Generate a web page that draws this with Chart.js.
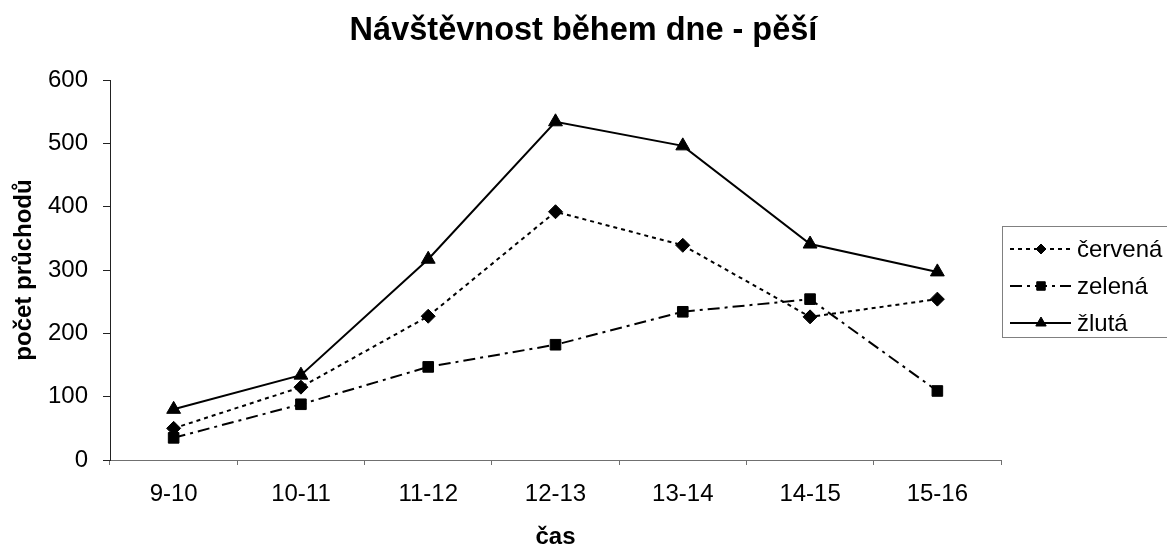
<!DOCTYPE html>
<html>
<head>
<meta charset="utf-8">
<script src="https://cdn.jsdelivr.net/npm/chart.js@4.4.1/dist/chart.umd.min.js"></script>
<style>
  html, body { margin: 0; padding: 0; background: #fff; }
  #wrap { width: 1167px; height: 548px; }
</style>
</head>
<body>
<div id="wrap"><canvas id="chart" width="1167" height="548"></canvas></div>
<script>
// ---- data ----
const categories = ['9-10', '10-11', '11-12', '12-13', '13-14', '14-15', '15-16'];
const cervena = [50, 115, 227, 392, 339, 226, 254];
const zelena  = [35, 88, 147, 182, 234, 254, 109];
const zluta   = [80, 134, 317, 534, 496, 341, 297];
const seriesNames = ['červená', 'zelená', 'žlutá'];
const chartTitle = 'Návštěvnost během dne - pěší';

const FONT = '"Liberation Sans", Arial, sans-serif';

// title centred on the whole canvas (the built-in one centres left of the legend)
const pageTitle = {
  id: 'pageTitle',
  afterDraw(chart) {
    const ctx = chart.ctx;
    ctx.save();
    ctx.fillStyle = '#000';
    ctx.font = 'bold 32.5px ' + FONT;
    ctx.textAlign = 'center';
    ctx.textBaseline = 'alphabetic';
    ctx.fillText(chartTitle, chart.width / 2, 40);
    ctx.restore();
  }
};

// legend drawn by hand so the samples keep the dash pattern + marker
const boxLegend = {
  id: 'boxLegend',
  afterDraw(chart) {
    const ctx = chart.ctx;
    const sizes = [5, 6, 6];
    ctx.save();
    ctx.strokeStyle = '#808080';
    ctx.lineWidth = 1;
    ctx.strokeRect(1002.5, 226.5, 170, 111);
    chart.data.datasets.forEach((ds, i) => {
      const y = 249 + i * 37;
      ctx.strokeStyle = '#000';
      ctx.lineWidth = ds.borderWidth;
      ctx.setLineDash(ds.borderDash || []);
      ctx.beginPath();
      ctx.moveTo(1010, y);
      ctx.lineTo(1071, y);
      ctx.stroke();
      ctx.setLineDash([]);
      ctx.fillStyle = '#000';
      ctx.lineWidth = 1;
      Chart.helpers.drawPoint(ctx, { pointStyle: ds.pointStyle, radius: sizes[i], rotation: 0, borderWidth: 1 }, 1041, y);
      ctx.fillStyle = '#000';
      ctx.font = '24px ' + FONT;
      ctx.textBaseline = 'middle';
      ctx.textAlign = 'left';
      ctx.fillText(ds.label, 1077, y + 1);
    });
    ctx.restore();
  }
};

function lineSet(label, data, dash, style, r) {
  return {
    label: label,
    data: data,
    borderColor: '#000',
    backgroundColor: '#000',
    borderWidth: 2,
    borderDash: dash,
    tension: 0,
    fill: false,
    pointStyle: style,
    pointRadius: r,
    pointBackgroundColor: '#000',
    pointBorderColor: '#000',
    pointBorderWidth: 1
  };
}

new Chart(document.getElementById('chart'), {
  type: 'line',
  data: {
    labels: categories,
    datasets: [
      lineSet(seriesNames[0], cervena, [4, 4], 'rectRot', 7),
      lineSet(seriesNames[1], zelena, [12, 5, 3, 5], 'rect', 7.5),
      lineSet(seriesNames[2], zluta, [], 'triangle', 8)
    ]
  },
  options: {
    responsive: false,
    animation: false,
    devicePixelRatio: 1,
    layout: { padding: { left: 0, right: 166, top: 80, bottom: 0 } },
    plugins: {
      legend: { display: false },
      tooltip: { enabled: false },
      title: { display: false }
    },
    scales: {
      x: {
        offset: true,
        afterFit: (s) => { s.height = 88; },
        grid: { offset: true, drawOnChartArea: false, drawTicks: true, tickLength: 5, color: '#707070' },
        border: { display: true, color: '#707070', width: 1 },
        ticks: { color: '#000', padding: 15, font: { family: FONT, size: 24 }, maxRotation: 0 },
        title: {
          display: true,
          text: 'čas',
          color: '#000',
          font: { family: FONT, size: 24, weight: 'bold', lineHeight: 0.9 },
          padding: 0
        }
      },
      y: {
        min: 0,
        max: 600,
        afterFit: (s) => { s.width = 110; },
        grid: { drawOnChartArea: false, drawTicks: true, tickLength: 7, color: '#222' },
        border: { display: true, color: '#222', width: 1 },
        ticks: { stepSize: 100, color: '#000', padding: 15, font: { family: FONT, size: 24 } },
        title: {
          display: true,
          text: 'počet průchodů',
          color: '#000',
          font: { family: FONT, size: 24, weight: 'bold' },
          padding: { top: 10, bottom: 0 }
        }
      }
    }
  },
  plugins: [pageTitle, boxLegend]
});
</script>
</body>
</html>
